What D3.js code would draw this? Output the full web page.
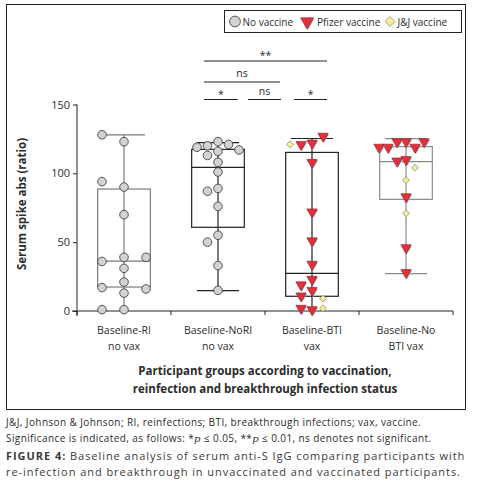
<!DOCTYPE html>
<html>
<head>
<meta charset="utf-8">
<script src="https://cdn.jsdelivr.net/npm/d3@7"></script>
<style>
  body { margin: 0; background: #fff; }
  text { font-family: "Open Sans", "Noto Sans", sans-serif; fill: #2b2b2b; }
</style>
</head>
<body>
<div id="chart"></div>
<script>
// ---- data ----
var groups = ["Baseline-RI|no vax", "Baseline-NoRI|no vax", "Baseline-BTI|vax", "Baseline-No|BTI vax"];

// serum spike abs (ratio), one array per group and vaccine
var noVaxRI = [123, 128, 90, 94, 39, 36, 39, 70, 31, 21, 17, 16, 13, 1, 1];
var noVaxNoRI = [123, 120, 121, 119, 116, 117, 113, 108, 101, 89, 87, 76, 55, 50, 33, 15];
var btiPfizer = [122, 121, 127, 108, 72, 51, 34, 23, 19, 15, 11, 1, 2];
var btiJJ = [121, 9, 2];
var noBtiPfizer = [123, 123, 119, 119, 123, 119, 110, 109, 83, 46, 28];
var noBtiJJ = [104, 95, 71];

// box plot summaries per group
var boxQ1 = [17.4, 60.8, 10.7, 81.1];
var boxMedian = [36.3, 104.3, 27.4, 108.5];
var boxQ3 = [88.6, 117.4, 115.2, 119.4];
var whiskerLow = [1, 14.8, 1, 27.1];
var whiskerHigh = [128, 122.3, 125.3, 125.2];

var yTicks = [0, 50, 100, 150];

// significance brackets (ends in group units from the left axis)
var sigFrom = [1.35, 1.82, 2.31, 1.35, 1.35];
var sigTo = [1.71, 2.17, 2.66, 2.16, 2.66];
var sigRow = [0, 0, 0, 1, 2];
var sigLabel = ["*", "ns", "*", "ns", "**"];

var W = 478, H = 487;
var svg = d3.select("#chart").append("svg").attr("width", W).attr("height", H);

svg.append("rect").attr("x", 6.5).attr("y", 4.5).attr("width", 459).attr("height", 405)
    .attr("fill", "none").attr("stroke", "#222").attr("stroke-width", 1);

var x = d3.scaleBand().domain(groups).range([77, 453]);
var y = d3.scaleLinear().domain([0, 150]).range([311, 104.5]);

var boxColor = ["#7a7a7a", "#222", "#222", "#8a8a8a"];

// ---- axes ----
var yAxis = svg.append("g").attr("transform", "translate(77,0)")
    .call(d3.axisLeft(y).tickValues(yTicks).tickSize(4).tickPadding(3));
yAxis.select(".domain").attr("d", "M0," + y(150) + "V" + (y(0) + 5));
yAxis.selectAll("text").style("font-size", "11px").style("fill", "#2b2b2b");
yAxis.selectAll("line, path").attr("stroke", "#222");

var xAxis = svg.append("g").attr("transform", "translate(0," + y(0) + ")");
xAxis.append("line").attr("x1", 72).attr("x2", 453).attr("stroke", "#222");
xAxis.selectAll(".xt").data(groups.concat([null])).enter().append("line")
    .attr("x1", function (d, i) { return x.range()[0] + i * x.step(); })
    .attr("x2", function (d, i) { return x.range()[0] + i * x.step(); })
    .attr("y1", 0).attr("y2", 4).attr("stroke", "#222");

groups.forEach(function (g) {
    var parts = g.split("|");
    var t = svg.append("text").attr("text-anchor", "middle").style("font-size", "10.5px")
        .attr("x", x(g) + x.bandwidth() / 2).attr("y", 334);
    t.append("tspan").attr("x", x(g) + x.bandwidth() / 2).text(parts[0]);
    t.append("tspan").attr("x", x(g) + x.bandwidth() / 2).attr("dy", 16).text(parts[1]);
});

var xt = svg.append("text").attr("text-anchor", "middle").style("font-size", "11.5px")
    .style("font-weight", "bold").attr("y", 375);
xt.append("tspan").attr("x", 265).text("Participant groups according to vaccination,");
xt.append("tspan").attr("x", 265).attr("dy", 18).text("reinfection and breakthrough infection status");

svg.append("text").attr("transform", "translate(26,204) rotate(-90)")
    .attr("text-anchor", "middle").style("font-size", "11.5px").style("font-weight", "bold")
    .text("Serum spike abs (ratio)");

// ---- box plots ----
var bw = x.bandwidth() * 0.56;
groups.forEach(function (g, i) {
    var cx = x(g) + x.bandwidth() / 2, c = boxColor[i];
    var b = svg.append("g").attr("stroke", c).attr("fill", "none").attr("stroke-width", 1.2);
    b.append("line").attr("x1", cx).attr("x2", cx).attr("y1", y(whiskerHigh[i])).attr("y2", y(whiskerLow[i]));
    b.append("rect").attr("x", cx - bw / 2).attr("width", bw)
        .attr("y", y(boxQ3[i])).attr("height", y(boxQ1[i]) - y(boxQ3[i])).attr("fill", "#fff");
    b.append("line").attr("x1", cx).attr("x2", cx).attr("y1", y(boxQ3[i])).attr("y2", y(boxQ1[i]));
    b.append("line").attr("x1", cx - bw / 2).attr("x2", cx + bw / 2)
        .attr("y1", y(boxMedian[i])).attr("y2", y(boxMedian[i]));
    b.append("line").attr("x1", cx - bw * 0.4).attr("x2", cx + bw * 0.4)
        .attr("y1", y(whiskerHigh[i])).attr("y2", y(whiskerHigh[i]));
    if (whiskerLow[i] > 3) {
        b.append("line").attr("x1", cx - bw * 0.4).attr("x2", cx + bw * 0.4)
            .attr("y1", y(whiskerLow[i])).attr("y2", y(whiskerLow[i]));
    }
});

// ---- scatter points, spread sideways where they overlap ----
function swarm(groupIndex, series, step) {
    var cx = x(groups[groupIndex]) + x.bandwidth() / 2;
    var placed = [], out = [];
    series.forEach(function (s) {
        s.values.forEach(function (v) {
            var py = y(v), k = 0, offs = [0, -1, 1, -2, 2, -3, 3];
            for (k = 0; k < offs.length; k++) {
                var px = cx + offs[k] * step;
                var hit = placed.some(function (p) { return Math.abs(p[0] - px) < 8.5 && Math.abs(p[1] - py) < 8.5; });
                if (!hit) break;
            }
            var pt = [cx + offs[Math.min(k, offs.length - 1)] * step, py];
            placed.push(pt);
            out.push({ x: pt[0], y: pt[1], kind: s.kind });
        });
    });
    return out;
}

var points = []
    .concat(swarm(0, [{ kind: "none", values: noVaxRI }], 22))
    .concat(swarm(1, [{ kind: "none", values: noVaxNoRI }], 10.5))
    .concat(swarm(2, [{ kind: "pfizer", values: btiPfizer }, { kind: "jj", values: btiJJ }], 11))
    .concat(swarm(3, [{ kind: "pfizer", values: noBtiPfizer }, { kind: "jj", values: noBtiJJ }], 9));

function drawMarker(sel, kind, scale) {
    var s = scale || 1;
    if (kind === "none") {
        sel.append("circle").attr("r", 4.3 * s).attr("fill", "#d2d2d2").attr("stroke", "#444").attr("stroke-width", 0.9);
    } else if (kind === "pfizer") {
        var tri = d3.symbol().type(d3.symbolTriangle).size(46 * s * s);
        sel.append("path").attr("d", tri()).attr("transform", "translate(0.8,1) rotate(180)").attr("fill", "#9a9a9a");
        sel.append("path").attr("d", tri()).attr("transform", "rotate(180)")
            .attr("fill", "#e5303b").attr("stroke", "#8b1d22").attr("stroke-width", 0.6);
    } else {
        var dia = d3.symbol().type(d3.symbolSquare).size(24 * s * s);
        sel.append("path").attr("d", dia()).attr("transform", "rotate(45)")
            .attr("fill", "#f6ee9c").attr("stroke", "#8a8660").attr("stroke-width", 0.7);
    }
}

svg.append("g").selectAll("g").data(points).enter().append("g")
    .attr("transform", function (d) { return "translate(" + d.x + "," + d.y + ")"; })
    .each(function (d) { drawMarker(d3.select(this), d.kind); });

// ---- significance brackets ----
var rowY = [99.5, 82, 61];
var gpos = function (f) { return x.range()[0] + f * x.step(); };
sigLabel.forEach(function (lab, i) {
    var yy = rowY[sigRow[i]];
    svg.append("line").attr("x1", gpos(sigFrom[i])).attr("x2", gpos(sigTo[i]))
        .attr("y1", yy).attr("y2", yy).attr("stroke", "#222");
    svg.append("text").attr("text-anchor", "middle").style("font-size", "10.5px")
        .attr("x", (gpos(sigFrom[i]) + gpos(sigTo[i])) / 2).attr("y", yy - (lab === "ns" ? 5 : 2))
        .text(lab);
});

// ---- legend ----
var lg = svg.append("g");
lg.append("rect").attr("x", 224.5).attr("y", 10.5).attr("width", 237).attr("height", 22)
    .attr("fill", "#fff").attr("stroke", "#222");
var legKinds = ["none", "pfizer", "jj"];
var legText = ["No vaccine", "Pfizer vaccine", "J&J vaccine"];
var legX = [235, 307, 390];
var legScale = [1.25, 1.25, 1.45];
legKinds.forEach(function (k, i) {
    var m = lg.append("g").attr("transform", "translate(" + legX[i] + ",21.5)");
    drawMarker(m, k, legScale[i]);
    lg.append("text").attr("x", legX[i] + (k === "pfizer" ? 10 : 7.5)).attr("y", 25.5)
        .style("font-size", "10px").text(legText[i]);
});

// ---- caption ----
var cap = svg.append("g").style("font-size", "10px").style("letter-spacing", "0.4px");
cap.append("text").attr("x", 6).attr("y", 426)
    .text("J&J, Johnson & Johnson; RI, reinfections; BTI, breakthrough infections; vax, vaccine.");
var sig = cap.append("text").attr("x", 6).attr("y", 442);
sig.append("tspan").text("Significance is indicated, as follows: *");
sig.append("tspan").style("font-family", "DejaVu Serif").style("font-style", "italic").text("p");
sig.append("tspan").text("  \u2264  0.05, **");
sig.append("tspan").style("font-family", "DejaVu Serif").style("font-style", "italic").text("p");
sig.append("tspan").text("  \u2264  0.01, ns denotes not significant.");

var figCap = svg.append("g").style("font-size", "11px").style("letter-spacing", "0.95px");
var fig = figCap.append("text").attr("x", 6).attr("y", 460).style("fill", "#3a3a3a");
fig.append("tspan").style("font-weight", "bold").text("FIGURE 4:");
fig.append("tspan").text(" Baseline analysis of serum anti-S IgG comparing participants with");
figCap.append("text").attr("x", 6).attr("y", 475.5).style("fill", "#3a3a3a")
    .text("re-infection and breakthrough in unvaccinated and vaccinated participants.");
</script>
</body>
</html>
